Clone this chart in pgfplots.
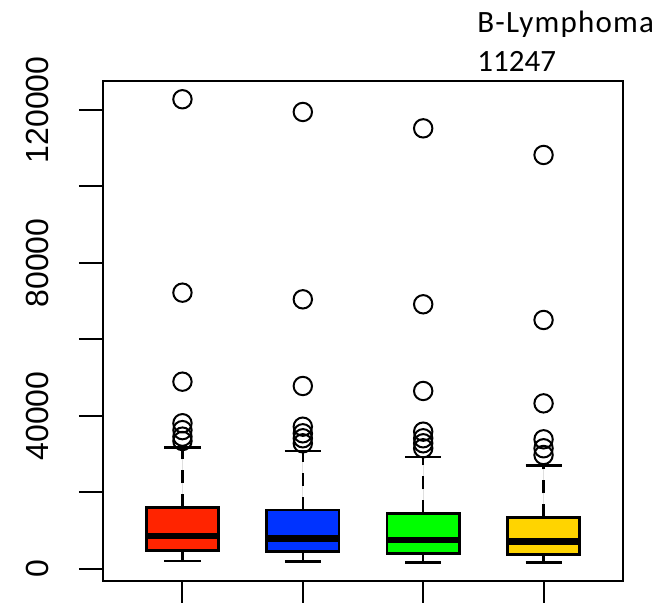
\documentclass[border=0pt]{standalone}
\usepackage{fontspec}
\setmainfont{Liberation Sans}
\newfontfamily\carlito{Carlito}
\newfontfamily\carlitols[LetterSpace=4]{Carlito}
\usepackage{pgfplots}
\pgfplotsset{compat=1.18}
\usepgfplotslibrary{statistics}
\definecolor{bred}{HTML}{FF2400}
\definecolor{bblue}{HTML}{0033FF}
\definecolor{bgreen}{HTML}{00FF00}
\definecolor{bgold}{HTML}{FFD400}
% values in thousands
\pgfplotsset{
  rbox/.style={
    draw=black, line width=1.25pt, solid,
    mark=o, mark size=4.6pt,
    mark options={draw=black, fill=none, line width=1pt, solid},
    boxplot/draw direction=y,
    boxplot/box extend=0.6,
    boxplot/whisker extend=0.3,
    boxplot/every median/.style={line width=3.4pt},
    boxplot/draw/lower whisker/.code={
      \draw[black, line width=1.25pt, dash pattern=on 6.5pt off 5.5pt]
        (boxplot box cs:\pgfplotsboxplotvalue{lower quartile},0.5) --
        (boxplot box cs:\pgfplotsboxplotvalue{lower whisker},0.5);
      \draw[black, line width=1.25pt, solid]
        (boxplot whisker cs:\pgfplotsboxplotvalue{lower whisker},0) --
        (boxplot whisker cs:\pgfplotsboxplotvalue{lower whisker},1);
    },
    boxplot/draw/upper whisker/.code={
      \draw[black, line width=1.25pt, dash pattern=on 6.5pt off 5.5pt]
        (boxplot box cs:\pgfplotsboxplotvalue{upper quartile},0.5) --
        (boxplot box cs:\pgfplotsboxplotvalue{upper whisker},0.5);
      \draw[black, line width=1.25pt, solid]
        (boxplot whisker cs:\pgfplotsboxplotvalue{upper whisker},0) --
        (boxplot whisker cs:\pgfplotsboxplotvalue{upper whisker},1);
    },
  }
}
\begin{document}
\begin{tikzpicture}
\useasboundingbox (0,0) rectangle (326pt,301.5pt);
\begin{axis}[
  at={(51.5pt,11pt)}, anchor=south west,
  scale only axis, width=260pt, height=250pt,
  xmin=0.34, xmax=4.66, ymin=-3.14, ymax=127.58,
  axis line style={line width=1pt, black},
  tick style={line width=1pt, black},
  tick align=outside, major tick length=12pt,
  xtick={1,2,3,4}, xticklabels={},
  xtick pos=bottom, ytick pos=left,
  ytick={0,20,40,60,80,100,120},
  yticklabels={0,,40000,,80000,,120000},
  yticklabel shift=15pt,
  yticklabel style={rotate=90, anchor=south, inner sep=0pt, font=\fontsize{16}{16}\selectfont},
  clip=false,
]
\addplot[rbox, fill=bred, boxplot prepared={draw position=1,
  lower whisker=2.09, lower quartile=4.79, median=8.63,
  upper quartile=16.13, upper whisker=31.80}]
  table[row sep=\\, y index=0] {y\\ 122.80\\ 72.24\\ 48.97\\ 38.10\\ 36.30\\ 34.60\\ 33.46\\};
\addplot[rbox, fill=bblue, boxplot prepared={draw position=2,
  lower whisker=1.91, lower quartile=4.53, median=8.03,
  upper quartile=15.42, upper whisker=30.85}]
  table[row sep=\\, y index=0] {y\\ 119.48\\ 70.50\\ 47.84\\ 37.20\\ 35.47\\ 34.17\\ 32.86\\};
\addplot[rbox, fill=bgreen, boxplot prepared={draw position=3,
  lower whisker=1.75, lower quartile=4.10, median=7.58,
  upper quartile=14.56, upper whisker=29.28}]
  table[row sep=\\, y index=0] {y\\ 115.20\\ 69.20\\ 46.54\\ 35.90\\ 34.17\\ 32.86\\ 31.56\\};
\addplot[rbox, fill=bgold, boxplot prepared={draw position=4,
  lower whisker=1.65, lower quartile=3.84, median=7.14,
  upper quartile=13.51, upper whisker=27.10}]
  table[row sep=\\, y index=0] {y\\ 108.24\\ 65.10\\ 43.30\\ 33.90\\ 31.56\\ 29.80\\};
\end{axis}
\node[anchor=base west, inner sep=0pt, font=\carlitols\fontsize{15.5}{15.5}\selectfont] at (238.5pt,285pt) {B-Lymphoma};
\node[anchor=base west, inner sep=0pt, font=\carlito\fontsize{15.5}{15.5}\selectfont] at (238.5pt,265.5pt) {11247};
\end{tikzpicture}
\end{document}
